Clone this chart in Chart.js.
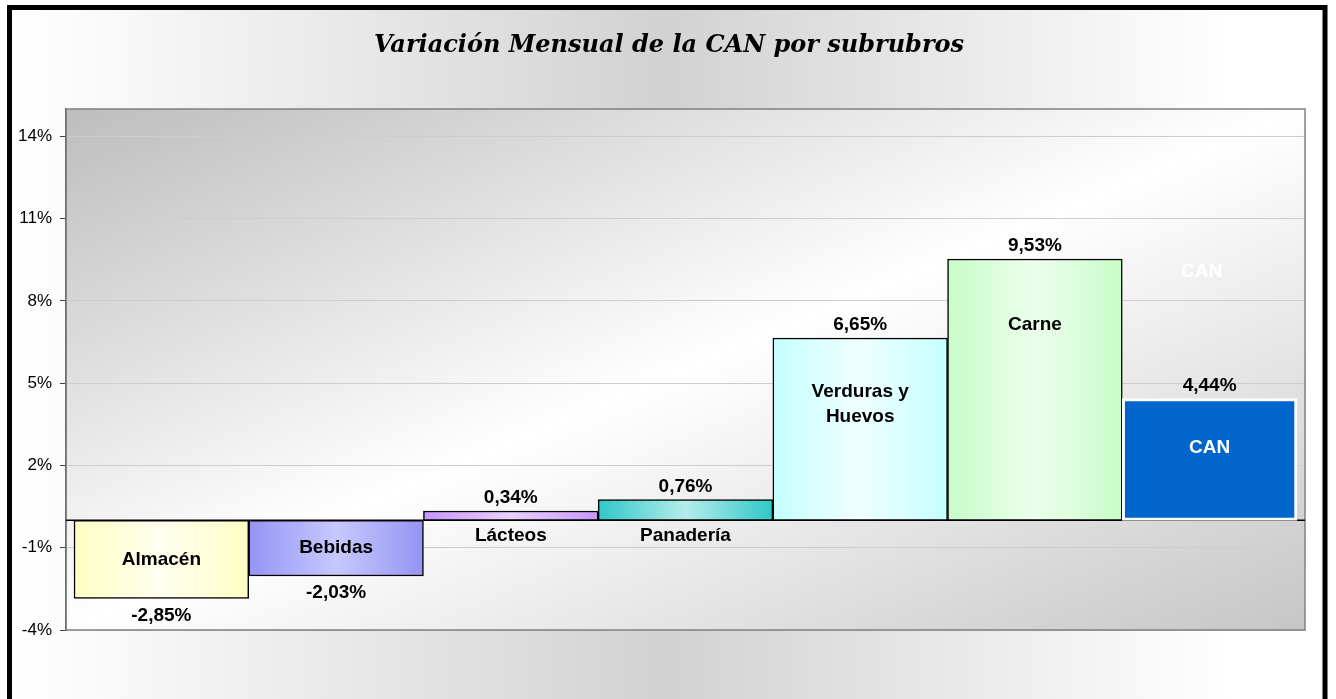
<!DOCTYPE html>
<html>
<head>
<meta charset="utf-8">
<script src="https://cdn.jsdelivr.net/npm/chart.js@4.4.1/dist/chart.umd.min.js"></script>
<style>
  html, body { margin: 0; padding: 0; background: #fff; }
  #wrap { width: 1336px; height: 699px; }
</style>
</head>
<body>
<div id="wrap"><canvas id="myChart"></canvas></div>
<script>
var categories = ['Almacén', 'Bebidas', 'Lácteos', 'Panadería', ['Verduras y', 'Huevos'], 'Carne', 'CAN'];
var values = [-2.85, -2.03, 0.34, 0.76, 6.65, 9.53, 4.44];
var yTicks = [-4, -1, 2, 5, 8, 11, 14];
var titleText = 'Variación Mensual de la CAN por subrubros';

// edge / centre colour of each bar's horizontal gradient
var barColors = [
    ['#ffffc4', '#fffff0'],
    ['#9494f4', '#c8c8ff'],
    ['#c896fa', '#e8d0ff'],
    ['#30c8c8', '#b4ecea'],
    ['#c4ffff', '#f0ffff'],
    ['#c8fcc8', '#ecffec'],
    ['#0066cc', '#0066cc']
];

var labelFont = 'bold 19px "Liberation Sans", Arial, sans-serif';

function barFill(c) {
    if (c.type !== 'data') return '#ccc';
    var col = barColors[c.dataIndex];
    var chart = c.chart, xs = chart.scales.x;
    if (!chart.chartArea || !xs) return col[0];
    var cx = xs.getPixelForValue(c.dataIndex);
    var w = xs.getPixelForValue(1) - xs.getPixelForValue(0);
    var g = chart.ctx.createLinearGradient(cx - w / 2, 0, cx + w / 2, 0);
    g.addColorStop(0, col[0]);
    g.addColorStop(0.5, col[1]);
    g.addColorStop(1, col[0]);
    return g;
}

var decor = {
    id: 'decor',
    beforeDraw: function(chart) {
        var ctx = chart.ctx, a = chart.chartArea, H = chart.height;
        ctx.save();
        ctx.fillStyle = '#fff';
        ctx.fillRect(0, 0, chart.width, H);
        // outer background
        var g = ctx.createLinearGradient(10, 0, 1323, 0);
        g.addColorStop(0, '#ffffff');
        g.addColorStop(0.04, '#fcfcfc');
        g.addColorStop(0.5, '#d2d2d2');
        g.addColorStop(0.93, '#ffffff');
        g.addColorStop(1, '#ffffff');
        ctx.fillStyle = g;
        ctx.fillRect(10, 8, 1314, H);
        // plot area background (diagonal)
        ctx.save();
        ctx.translate(a.left, a.top);
        ctx.scale(a.right - a.left, a.bottom - a.top);
        var pg = ctx.createLinearGradient(0, 0, 1, 1);
        pg.addColorStop(0, '#bdbdbd');
        pg.addColorStop(0.5, '#ffffff');
        pg.addColorStop(1, '#c6c6c6');
        ctx.fillStyle = pg;
        ctx.fillRect(0, 0, 1, 1);
        ctx.restore();
        // outer frame
        ctx.strokeStyle = '#000';
        ctx.lineWidth = 5;
        ctx.strokeRect(9.5, 7.5, 1315.5, H + 20);
        // title
        ctx.fillStyle = '#000';
        ctx.font = 'bold italic 24px "DejaVu Serif", serif';
        ctx.textAlign = 'center';
        ctx.textBaseline = 'middle';
        ctx.fillText(titleText, 669, 46);
        ctx.restore();
    },
    beforeDatasetsDraw: function(chart) {
        var ctx = chart.ctx, a = chart.chartArea;
        var y0 = chart.scales.y.getPixelForValue(0);
        ctx.save();
        ctx.strokeStyle = '#808080';
        ctx.lineWidth = 1.5;
        ctx.strokeRect(a.left, a.top, a.right - a.left, a.bottom - a.top);
        ctx.strokeStyle = '#000';
        ctx.lineWidth = 1.5;
        ctx.beginPath();
        ctx.moveTo(a.left, y0);
        ctx.lineTo(a.right, y0);
        ctx.stroke();
        ctx.restore();
    },
    afterDatasetsDraw: function(chart) {
        var ctx = chart.ctx, a = chart.chartArea;
        var y0 = chart.scales.y.getPixelForValue(0);
        var meta = chart.getDatasetMeta(0);
        ctx.save();
        ctx.font = labelFont;
        ctx.textAlign = 'center';
        ctx.textBaseline = 'middle';
        meta.data.forEach(function(bar, i) {
            var v = values[i];
            var top = Math.min(bar.y, bar.base), bot = Math.max(bar.y, bar.base), h = bot - top;
            ctx.fillStyle = '#000';
            var txt = v.toFixed(2).replace('.', ',') + '%';
            ctx.fillText(txt, bar.x, v >= 0 ? top - 13 : bot + 17);

            var lines = Array.isArray(categories[i]) ? categories[i] : [categories[i]];
            var cy;
            if (Math.abs(v) < 1) cy = y0 + 15;
            else if (v > 0) cy = top + Math.min(0.4 * h, 66);
            else cy = top + h / 2;
            ctx.fillStyle = i === values.length - 1 ? '#fff' : '#000';
            lines.forEach(function(l, k) {
                ctx.fillText(l, bar.x, cy + (k - (lines.length - 1) / 2) * 25);
            });
        });
        // faint white label above the CAN bar
        var last = meta.data[meta.data.length - 1];
        ctx.fillStyle = '#fff';
        ctx.fillText('CAN', last.x - 8, a.top + 163);
        ctx.restore();
    }
};

var ctx = document.getElementById('myChart').getContext('2d');
var myChart = new Chart(ctx, {
    type: 'bar',
    data: {
        datasets: [{
            data: values.map(function(v, i) { return { x: i, y: v }; }),
            backgroundColor: barFill,
            borderColor: function(c) { return c.dataIndex === values.length - 1 ? '#ffffff' : '#000000'; },
            borderWidth: function(c) { return c.dataIndex === values.length - 1 ? 3 : 1.5; },
            borderSkipped: false,
            barThickness: 'flex',
            barPercentage: 1,
            categoryPercentage: 1
        }]
    },
    options: {
        responsive: true,
        maintainAspectRatio: false,
        animation: false,
        layout: {
            padding: { left: 10, top: 109, right: 31, bottom: 69 }
        },
        plugins: {
            legend: { display: false },
            title: { display: false },
            tooltip: { enabled: false }
        },
        scales: {
            x: {
                type: 'linear',
                display: false,
                offset: false,
                min: -0.546,
                max: values.length - 0.454
            },
            y: {
                min: -4,
                max: 15,
                afterBuildTicks: function(axis) {
                    axis.ticks = yTicks.map(function(v) { return { value: v }; });
                },
                afterFit: function(axis) { axis.width = 56; },
                grid: { color: '#cdcdcd', tickColor: '#404040', tickLength: 6, lineWidth: 1 },
                border: { color: '#404040', width: 1.5 },
                ticks: {
                    callback: function(v) { return v + '%'; },
                    font: { family: '"Liberation Sans", Arial, sans-serif', size: 17 },
                    color: '#000',
                    padding: 8
                }
            }
        }
    },
    plugins: [decor]
});
</script>
</body>
</html>
